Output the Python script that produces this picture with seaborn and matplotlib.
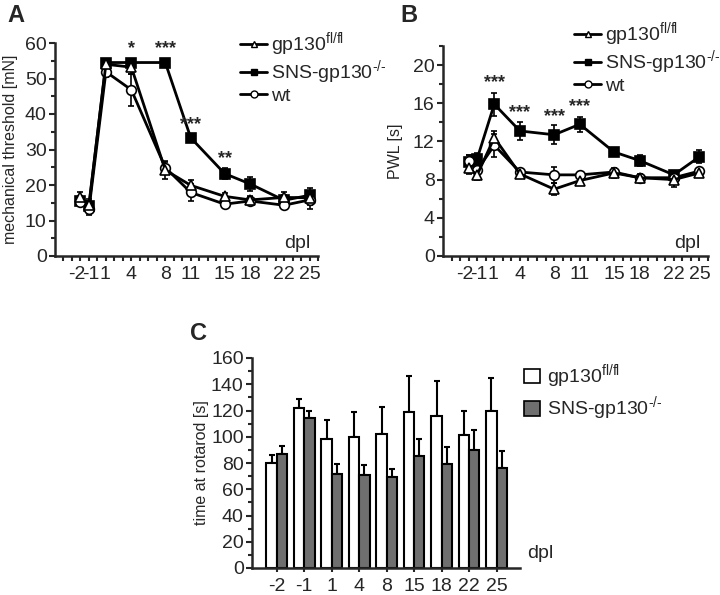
import matplotlib
matplotlib.use('Agg')
import matplotlib.pyplot as plt
import matplotlib.transforms as mtransforms
from matplotlib.lines import Line2D
from matplotlib.patches import Patch
import seaborn as sns
import pandas as pd

days = [-2, -1, 1, 4, 8, 11, 15, 18, 22, 25]

# A: mechanical threshold [mN]
mech_flfl = [16.5, 14.5, 54.0, 53.2, 24.2, 19.9, 16.8, 15.8, 16.5, 16.4]
mech_flfl_err = [1.5, 1.5, 1.0, 2.0, 2.5, 1.5, 1.0, 1.0, 1.5, 2.0]
mech_sns = [15.5, 14.0, 54.5, 54.5, 54.5, 33.3, 23.2, 20.3, 15.7, 17.1]
mech_sns_err = [1.5, 1.5, 0.5, 0.5, 0.5, 1.0, 1.5, 2.0, 1.5, 2.0]
mech_wt = [15.2, 13.1, 51.9, 46.8, 24.9, 17.9, 14.6, 15.5, 14.3, 15.8]
mech_wt_err = [1.0, 1.5, 1.5, 4.5, 1.5, 2.5, 1.0, 1.0, 1.0, 2.5]
mech_stars = {4: ('*', 58.5), 8: ('***', 58.5), 11: ('***', 37.0), 15: ('**', 27.5)}

# B: paw withdrawal latency [s]
pwl_flfl = [9.2, 8.5, 12.4, 8.6, 7.0, 7.9, 8.7, 8.2, 8.0, 8.7]
pwl_flfl_err = [0.6, 0.5, 0.7, 0.4, 0.6, 0.4, 0.5, 0.4, 0.8, 0.3]
pwl_sns = [9.8, 10.2, 15.9, 13.1, 12.7, 13.8, 10.9, 10.0, 8.5, 10.4]
pwl_sns_err = [0.8, 0.6, 1.2, 0.9, 1.0, 0.8, 0.4, 0.6, 0.4, 0.7]
pwl_wt = [10.0, 9.0, 11.6, 8.8, 8.5, 8.5, 8.8, 8.2, 8.2, 8.9]
pwl_wt_err = [0.6, 0.5, 1.2, 0.3, 0.8, 0.3, 0.3, 0.3, 0.3, 0.3]
pwl_stars = {1: ('***', 18.2), 4: ('***', 15.0), 8: ('***', 14.6), 11: ('***', 15.6)}

# C: rotarod
rot_days = ['-2', '-1', '1', '4', '8', '15', '18', '22', '25']
rot_flfl = [80, 122, 98, 100, 102, 119, 116, 101, 120]
rot_flfl_err = [6, 6.5, 15, 19, 21, 27, 26.5, 19, 25]
rot_sns = [87, 114, 72, 71, 69, 85, 79, 90, 76]
rot_sns_err = [6, 6, 7, 7.5, 6.5, 13, 13, 15, 13]

lab_flfl = 'gp130$^{\\text{fl/fl}}$'
lab_sns = 'SNS-gp130$^{\\text{-/-}}$'

sns.set_style('ticks')
plt.rcParams['font.family'] = ['Liberation Sans', 'DejaVu Sans']
plt.rcParams['mathtext.fontset'] = 'custom'
plt.rcParams['mathtext.rm'] = 'Liberation Sans'
plt.rcParams['axes.unicode_minus'] = False
plt.rcParams['axes.linewidth'] = 1.8
plt.rcParams['xtick.major.width'] = 1.5
plt.rcParams['ytick.major.width'] = 1.5
plt.rcParams['xtick.minor.width'] = 1.5
plt.rcParams['ytick.minor.width'] = 1.5

FS = 14
LFS = 11.5


def line_panel(ax, series, stars, ylim, ystep, ylabel):
    styles = [('s', 'k'), ('o', 'white'), ('^', 'white')]
    for (vals, err), (mk, fc) in zip(series, styles):
        ax.errorbar(days, vals, yerr=err, fmt='none', ecolor='k',
                    elinewidth=1.2, capsize=2.5, capthick=1.2, zorder=2)
        sns.lineplot(x=days, y=vals, ax=ax, color='k', lw=2, marker=mk,
                     markersize=7, markerfacecolor=fc, markeredgecolor='k',
                     markeredgewidth=1.2, zorder=3)
    for d, (s, y) in stars.items():
        ax.text(d, y, s, ha='center', va='center', fontsize=13, fontweight='bold')
    ax.set_xlim(-5, 26)
    ax.set_ylim(*ylim)
    ax.set_xticks(days)
    ax.set_xticklabels([str(d) for d in days], fontsize=FS)
    ax.set_xticks(range(-4, 27), minor=True)
    ax.set_yticks(range(0, ylim[1] + 1, ystep))
    ax.set_yticks(range(0, ylim[1] + 1, ystep // 2), minor=True)
    ax.tick_params(axis='y', labelsize=FS, length=4, pad=2)
    ax.tick_params(axis='y', which='minor', length=3)
    ax.tick_params(axis='x', which='both', length=3.5, pad=4)
    # the first labels sit close together, nudge them apart a little
    fig = ax.figure
    for lbl, dx in zip(ax.get_xticklabels()[:3], [-4, 2, -1]):
        lbl.set_transform(lbl.get_transform() + mtransforms.ScaledTranslation(dx / 100, 0, fig.dpi_scale_trans))
    ax.set_ylabel(ylabel, fontsize=LFS)
    ax.text(0.97, 0.02, 'dpl', transform=ax.transAxes, ha='right', va='bottom', fontsize=FS)
    sns.despine(ax=ax)


fig = plt.figure(figsize=(7.2, 5.95), dpi=100)

axA = fig.add_axes([55 / 720, 339 / 595, 263 / 720, 213 / 595])
line_panel(axA, [(mech_sns, mech_sns_err), (mech_wt, mech_wt_err), (mech_flfl, mech_flfl_err)],
           mech_stars, (0, 60), 10, 'mechanical threshold [mN]')
axA.yaxis.set_label_coords(-0.14, 0.5)

axB = fig.add_axes([443 / 720, 339 / 595, 265 / 720, 210 / 595])
line_panel(axB, [(pwl_sns, pwl_sns_err), (pwl_wt, pwl_wt_err), (pwl_flfl, pwl_flfl_err)],
           pwl_stars, (0, 22), 4, 'PWL [s]')
axB.set_yticks(range(0, 21, 4))
axB.yaxis.set_label_coords(-0.15, 0.5)

handles = [
    Line2D([], [], color='k', lw=2, marker='^', markersize=5, markerfacecolor='white', markeredgecolor='k'),
    Line2D([], [], color='k', lw=2, marker='s', markersize=5, markerfacecolor='k', markeredgecolor='k'),
    Line2D([], [], color='k', lw=2, marker='o', markersize=5, markerfacecolor='white', markeredgecolor='k'),
]
labels = [lab_flfl, lab_sns, 'wt']
for ax, anchor in [(axA, (240 / 720, 1 - 30 / 595)), (axB, (574 / 720, 1 - 20 / 595))]:
    fig.legend(handles, labels, loc='upper left', bbox_to_anchor=anchor, frameon=False,
               fontsize=FS, handlelength=1.4, handletextpad=0.2, labelspacing=0.0,
               borderpad=0, borderaxespad=0)

# C
axC = fig.add_axes([252 / 720, 27 / 595, 268 / 720, 210 / 595])
rot = pd.DataFrame({
    'day': rot_days * 2,
    'time': rot_flfl + rot_sns,
    'group': ['flfl'] * len(rot_days) + ['sns'] * len(rot_days),
})
sns.barplot(data=rot, x='day', y='time', hue='group', order=rot_days,
            palette={'flfl': 'white', 'sns': '#6f6f6f'}, edgecolor='k', linewidth=1.5,
            width=0.75, errorbar=None, legend=False, ax=axC)
bars = axC.patches
errs = rot_flfl_err + rot_sns_err
vals = rot_flfl + rot_sns
xs = [b.get_x() + b.get_width() / 2 for b in bars[:len(vals)]]
axC.errorbar(xs, vals, yerr=[[0] * len(vals), errs], fmt='none', ecolor='k',
             elinewidth=1.5, capsize=2.5, capthick=1.5, zorder=0)
axC.set_xlim(-0.9, 8.85)
axC.set_ylim(0, 160)
axC.set_yticks(range(0, 161, 20))
axC.set_yticks(range(0, 161, 10), minor=True)
axC.tick_params(axis='both', labelsize=FS, length=4, pad=2)
axC.tick_params(axis='y', which='minor', length=3)
axC.tick_params(axis='x', pad=4, length=3)
axC.set_xlabel('')
axC.set_ylabel('time at rotarod [s]', fontsize=LFS)
axC.yaxis.set_label_coords(-0.16, 0.5)
sns.despine(ax=axC)
fig.text(527 / 720, 1 - 553 / 595, 'dpl', ha='left', va='center', fontsize=FS)
fig.legend([Patch(facecolor='white', edgecolor='k', lw=1.2), Patch(facecolor='#6f6f6f', edgecolor='k', lw=1.2)],
           [lab_flfl, lab_sns], loc='upper left', bbox_to_anchor=(524 / 720, 1 - 362 / 595),
           frameon=False, fontsize=FS, handlelength=0.8, handleheight=0.8, handletextpad=0.4,
           labelspacing=0.2, borderpad=0, borderaxespad=0)

fig.text(7 / 720, 1 - 15 / 595, 'A', fontsize=17, fontweight='bold', va='center')
fig.text(400 / 720, 1 - 15 / 595, 'B', fontsize=17, fontweight='bold', va='center')
fig.text(190 / 720, 1 - 333 / 595, 'C', fontsize=17, fontweight='bold', va='center')

fig.savefig('out.png', dpi=100)
